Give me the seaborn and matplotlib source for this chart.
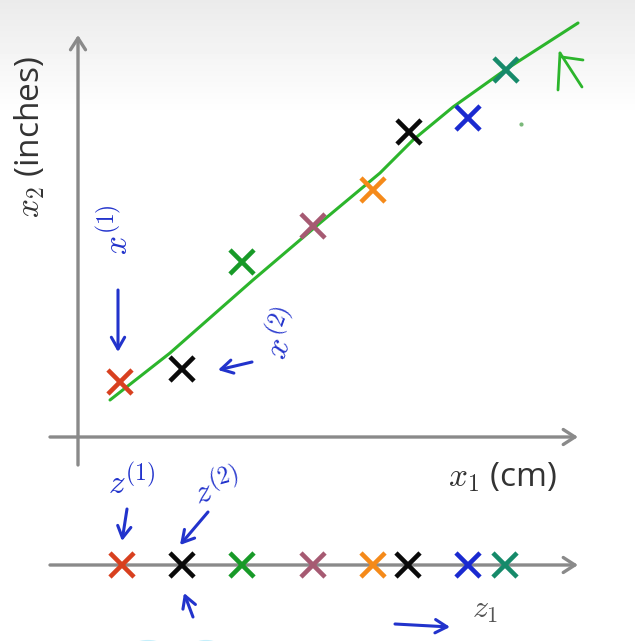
import numpy as np
import pandas as pd
import matplotlib
matplotlib.use("Agg")
import matplotlib.pyplot as plt
from matplotlib.patches import Ellipse
import seaborn as sns

# ---- data ----
point_ids = [0, 1, 2, 3, 4, 5, 6, 7]
point_colors = ["#d8401f", "#0a0a0a", "#189a28", "#a65a72", "#f58a1a",
                "#0a0a0a", "#1a2ad0", "#168a6a"]
x1_vals = [42, 104, 164, 235, 295, 331, 390, 428]
x2_vals = [55, 68, 175, 211, 247, 305, 319, 367]
z1_vals = [44, 104, 164, 235, 295, 330, 390, 427]
# hand-drawn green projection line
line_x1 = [32, 92, 175, 242, 302, 335, 375, 427, 500]
line_x2 = [37, 84, 157, 214, 264, 297, 330, 367, 414]

Z_LEVEL = -128  # vertical position of the z1 number line

sns.set_theme(style="white")
plt.rcParams["font.family"] = ["Open Sans", "DejaVu Sans"]
plt.rcParams["mathtext.fontset"] = "cm"

fig = plt.figure(figsize=(6.35, 6.41), dpi=100)
ax = fig.add_axes([0, 0, 1, 1])
ax.set_xlim(-78, 557)
ax.set_ylim(-204, 437)
ax.axis("off")

# background gradient (light grey at top fading to white)
rows = np.arange(641)
grad = np.clip(0.92 + 0.08 * (rows / 115.0), 0, 1).reshape(-1, 1)
ax.imshow(grad, extent=[-78, 557, -204, 437], cmap="gray", vmin=0, vmax=1,
          aspect="auto", zorder=0)

axis_col = "#8a8a8a"

def axis_arrow(x0, y0, x1, y1):
    ax.annotate("", xy=(x1, y1), xytext=(x0, y0),
                arrowprops=dict(arrowstyle="->,head_length=0.7,head_width=0.45",
                                lw=2.4, color=axis_col, shrinkA=0, shrinkB=0),
                zorder=1)

axis_arrow(-28, 0, 500, 0)
axis_arrow(0, -28, 0, 402)
axis_arrow(-28, Z_LEVEL, 500, Z_LEVEL)

# green line
line_df = pd.DataFrame({"x1": line_x1, "x2": line_x2})
sns.lineplot(data=line_df, x="x1", y="x2", sort=False, color="#2cb52c",
             lw=2.2, ax=ax, zorder=2)

# points
pts = pd.DataFrame({"id": point_ids, "x1": x1_vals, "x2": x2_vals, "z1": z1_vals})
pal = {i: c for i, c in zip(point_ids, point_colors)}
sns.scatterplot(data=pts, x="x1", y="x2", hue="id", palette=pal, marker="x",
                s=300, linewidth=3.3, legend=False, ax=ax, zorder=3)
pts["zl"] = Z_LEVEL
sns.scatterplot(data=pts, x="z1", y="zl", hue="id", palette=pal, marker="x",
                s=300, linewidth=3.3, legend=False, ax=ax, zorder=3)

# axis labels
txt_col = "#333333"
ax.text(-48, 300, r"$x_2$ (inches)", rotation=90, ha="center", va="center",
        fontsize=24, color=txt_col)
ax.text(424, -40, r"$x_1$ (cm)", ha="center", va="center", fontsize=24, color=txt_col)
ax.text(407, -172, r"$z_1$", ha="center", va="center", fontsize=23, color="#555555")

# blue handwritten annotations
blue = "#2233cc"
def hand_arrow(x0, y0, x1, y1):
    ax.annotate("", xy=(x1, y1), xytext=(x0, y0),
                arrowprops=dict(arrowstyle="->,head_length=0.7,head_width=0.4",
                                lw=2.2, color=blue, shrinkA=0, shrinkB=0), zorder=4)

ax.text(40, 207, r"$x^{(1)}$", rotation=90, ha="center", va="center",
        fontsize=24, color=blue)
hand_arrow(40, 147, 40, 85)
ax.text(206, 103, r"$x^{(2)}$", rotation=70, ha="center", va="center",
        fontsize=24, color=blue)
hand_arrow(174, 75, 140, 67)
ax.text(54, -47, r"$z^{(1)}$", ha="center", va="center", fontsize=24, color=blue)
hand_arrow(49, -72, 44, -104)
ax.text(140, -52, r"$z^{(2)}$", rotation=15, ha="center", va="center",
        fontsize=24, color=blue)
hand_arrow(130, -75, 102, -108)
hand_arrow(115, -180, 106, -156)
hand_arrow(317, -187, 372, -190)

# green hand-drawn arrow near the line end
g = "#2cb52c"
ax.plot([480, 482], [347, 384], color=g, lw=2)
ax.plot([482, 504], [384, 350], color=g, lw=2)
ax.plot([484, 505], [380, 377], color=g, lw=2)
ax.plot([443], [313], marker="o", ms=2, color="#7ab87a")

# faint cyan arcs at bottom edge
ax.add_patch(Ellipse((70, -245), 72, 80, fill=False, ec="#c4effb", lw=3, zorder=1))
ax.add_patch(Ellipse((128, -245), 64, 80, fill=False, ec="#c4effb", lw=3, zorder=1))

fig.savefig("out.png", dpi=100)
